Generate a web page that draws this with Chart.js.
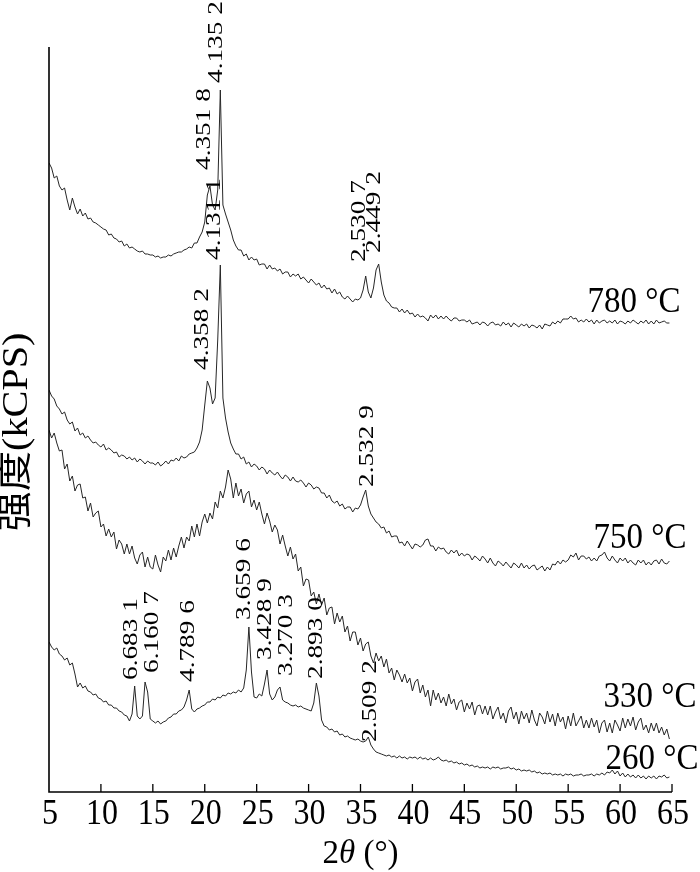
<!DOCTYPE html>
<html>
<head>
<meta charset="utf-8">
<script src="https://cdn.jsdelivr.net/npm/chart.js@4.4.1/dist/chart.umd.min.js"></script>
<style>
html,body{margin:0;padding:0;background:#fff;}
canvas{display:block;}
</style>
</head>
<body>
<canvas id="c" width="700" height="872"></canvas>
<script>
// ---------- DATA ----------
// 2θ grid: 5.00 to 64.75 step 0.25 (each row below = 2°)
const gridStart = 5, gridStep = 0.25, gridCount = 240;

// intensity (arbitrary kCPS units, stacked offsets included)
const i780 = [
637,632,622,624,614,610,612,600,
590,602,593,586,591,584,587,581,
582,578,577,575,573,571,570,565,
566,562,561,558,559,554,556,552,
553,551,549,548,549,546,546,545,
545,543,544,542,543,543,545,544,
546,547,548,548,550,551,553,552,
557,557,563,568,578,605,614,595,
590,610,710,595,586,578,570,560,
554,550,550,544,546,540,543,540,
541,535,536,536,531,535,531,532,
529,531,526,528,528,523,526,524,
526,521,523,520,517,521,518,515,
517,512,515,511,512,507,511,506,
508,503,501,504,501,498,501,500,
502,510,524,508,502,512,530,536,
518,505,499,497,493,492,492,488,
491,487,490,486,487,483,486,483,
484,482,479,485,482,485,481,484,
481,484,481,479,482,482,479,480,
480,478,480,476,477,478,475,478,
477,474,477,478,475,476,474,478,
475,477,473,477,475,473,476,474,
476,472,475,474,472,475,471,476,
475,474,478,476,479,477,481,481,
481,484,481,482,478,480,478,481,
478,480,476,480,477,479,480,477,
479,477,480,476,479,478,476,479,
477,480,478,476,479,477,480,476,
479,476,480,477,478,479,477,477
];
const i750 = [
410,404,401,394,391,386,388,380,
376,378,369,372,365,367,362,364,
360,357,358,355,353,356,350,352,
350,347,348,343,345,344,341,343,
340,342,338,341,339,336,339,337,
337,335,338,334,336,339,336,340,
339,342,339,344,342,343,346,347,
348,352,358,370,395,419,412,396,
402,460,535,402,382,368,357,351,
346,346,341,343,336,338,333,336,
334,330,333,331,326,330,327,325,
328,324,321,325,323,319,323,319,
318,320,317,313,317,315,311,313,
312,307,307,302,305,299,297,299,
294,296,291,293,293,288,292,291,
295,303,310,294,286,282,278,276,
272,273,267,269,263,264,264,257,
258,254,259,255,251,256,255,253,
255,260,261,254,254,249,253,251,
252,248,246,250,247,250,244,247,
244,246,245,240,244,242,239,244,
241,237,242,237,234,239,237,234,
238,235,232,237,235,232,237,232,
235,231,234,235,230,232,234,229,
233,230,236,235,239,236,240,238,
240,245,243,247,240,244,244,241,
243,239,242,239,244,245,248,242,
239,244,240,237,242,239,242,237,
240,237,235,240,237,240,235,238,
235,239,240,236,241,237,236,239
];
const i330 = [
370,362,367,357,349,350,331,336,
319,324,309,315,316,302,303,289,
297,283,287,289,273,276,264,271,
263,268,251,260,256,246,256,246,
254,242,236,245,248,233,243,233,
231,245,235,228,243,239,250,240,
252,243,254,263,252,263,259,274,
263,276,264,278,286,277,287,281,
298,292,309,302,313,330,321,302,
317,304,311,297,306,309,293,300,
290,298,286,276,287,279,268,275,
270,256,265,254,244,253,241,246,
229,233,214,221,220,204,208,196,
206,195,202,185,192,193,176,187,
178,184,168,174,159,168,168,155,
162,149,156,158,144,137,147,139,
144,133,141,127,132,120,130,125,
118,126,117,122,109,118,121,107,
115,103,110,94,110,100,107,97,
103,94,106,96,101,90,98,100,
88,97,91,98,85,94,95,86,
94,85,94,81,88,93,81,87,
77,89,93,81,88,76,89,81,
87,77,90,80,74,87,83,76,
89,78,86,74,87,78,83,71,
84,74,87,74,79,84,72,80,
72,82,73,80,67,77,80,68,
77,67,80,75,69,82,72,81,
74,83,70,78,82,70,75,67,
77,69,77,67,73,65,71,61
];
const i260 = [
158,153,150,152,146,144,140,142,
135,137,126,113,117,112,114,109,
108,105,106,102,101,98,99,95,
95,92,92,89,88,85,84,79,
86,114,84,81,84,118,108,81,
79,77,79,76,78,79,82,83,
86,86,89,90,93,100,110,91,
88,91,92,94,95,98,98,101,
100,103,102,105,104,107,106,108,
107,110,108,112,130,173,128,103,
102,106,104,116,130,106,100,103,
110,113,100,98,97,95,94,95,
93,94,92,91,90,89,97,117,
104,80,74,73,70,71,68,69,
65,66,63,64,62,61,60,61,
59,58,59,63,55,51,48,47,
46,45,44,45,43,44,42,44,
42,43,41,43,42,43,41,43,
41,42,40,42,40,41,43,40,
39,40,38,39,37,38,36,37,
35,36,34,35,33,34,32,33,
32,33,31,33,32,33,31,32,
32,33,31,32,30,31,29,30,
29,30,28,29,27,28,26,27,
26,27,25,26,25,26,24,26,
25,26,24,25,25,26,24,25,
25,26,24,26,25,27,25,28,
27,30,26,29,24,27,23,26,
23,25,22,25,22,24,21,24,
22,24,21,24,23,25,22,23
];

const seriesNames = ["780 °C", "750 °C", "330 °C", "260 °C"];
// temperature label anchors (2θ, intensity of text baseline)
const tempLabelX = [56.86, 57.44, 58.40, 58.59];
const tempLabelY = [488, 252, 93, 31];

// peak d-spacing labels (Å), anchor 2θ (text baseline) and intensity (text start)
const peakText = ["4.135 2","4.351 8","2.530 7","2.449 2",
                  "4.131 1","4.358 2","2.532 9",
                  "6.683 1","6.160 7","4.789 6","3.659 6","3.428 9","3.270 3","2.893 0","2.509 2"];
const peakX = [21.70,20.54,35.40,36.92, 21.50,20.35,36.24, 13.51,15.53,18.92,24.39,26.41,28.44,31.33,36.53];
const peakY = [717,630,538,547, 540,430,313, 120,127,118,180,140,124,121,58];

const xTicks = [5,10,15,20,25,30,35,40,45,50,55,60,65];

// ---------- BUILD ----------
const twoTheta = [];
for (let i = 0; i < gridCount; i++) twoTheta.push(gridStart + i * gridStep);
const toPts = arr => arr.map((v, i) => ({x: twoTheta[i], y: v}));

const LINE = '#262626';
const serif = '"Liberation Serif", "Times New Roman", serif';

function drawText(ctx, s, px, py, font, rot, sx, sy, align, base) {
  ctx.save();
  ctx.translate(px, py);
  if (rot) ctx.rotate(rot);
  ctx.scale(sx, sy);
  ctx.font = font;
  ctx.textAlign = align || 'left';
  ctx.textBaseline = base || 'alphabetic';
  ctx.fillText(s, 0, 0);
  ctx.restore();
}

const decor = {
  id: 'decor',
  afterDatasetsDraw(chart) {
    const {ctx, chartArea: a, scales: {x, y}} = chart;
    ctx.save();
    ctx.fillStyle = '#000';
    // axes
    ctx.strokeStyle = '#000';
    ctx.lineWidth = 1.6;
    ctx.beginPath();
    ctx.moveTo(a.left, a.top);
    ctx.lineTo(a.left, a.bottom);
    ctx.lineTo(a.right, a.bottom);
    ctx.stroke();
    ctx.lineWidth = 1.3;
    xTicks.forEach(t => {
      if (t === xTicks[0]) return;
      const px = x.getPixelForValue(t);
      ctx.beginPath();
      ctx.moveTo(px, a.bottom);
      ctx.lineTo(px, a.bottom - 8);
      ctx.stroke();
    });
    xTicks.forEach(t => drawText(ctx, String(t), x.getPixelForValue(t) + 1, a.bottom + 32,
      '32px ' + serif, 0, 1, 1.1, 'center'));

    // x title: 2θ (°)
    const cx = (a.left + a.right) / 2;
    const by = a.bottom + 71;
    const f1 = '33px ' + serif, f2 = 'italic 33px ' + serif;
    ctx.font = f1; const w1 = ctx.measureText('2').width;
    ctx.font = f2; const w2 = ctx.measureText('θ').width;
    ctx.font = f1; const w3 = ctx.measureText(' (°)').width;
    const sx0 = cx - (w1 + w2 + w3) / 2;
    drawText(ctx, '2', sx0, by, f1, 0, 1, 1.05);
    drawText(ctx, 'θ', sx0 + w1, by, f2, 0, 1, 1.05);
    drawText(ctx, ' (°)', sx0 + w1 + w2, by, f1, 0, 1, 1.05);

    // y title
    drawText(ctx, '强度(kCPS)', 18, 432, '35px ' + serif + ', "Noto Sans CJK SC"',
      -Math.PI / 2, 1.15, 1, 'center', 'middle');

    // temperature labels
    seriesNames.forEach((s, i) => {
      drawText(ctx, s, x.getPixelForValue(tempLabelX[i]), y.getPixelForValue(tempLabelY[i]),
        '33px ' + serif, 0, 1, 1.1);
    });

    // peak labels (vertical)
    peakText.forEach((s, i) => {
      drawText(ctx, s, x.getPixelForValue(peakX[i]), y.getPixelForValue(peakY[i]),
        '21px ' + serif, -Math.PI / 2, 1.3, 1);
    });
    ctx.restore();
  }
};

const mk = (label, arr) => ({
  label, data: toPts(arr), borderColor: LINE, borderWidth: 1,
  pointRadius: 0, tension: 0, fill: false
});

new Chart(document.getElementById('c'), {
  type: 'line',
  data: {
    datasets: [mk(seriesNames[0], i780), mk(seriesNames[1], i750), mk(seriesNames[2], i330), mk(seriesNames[3], i260)]
  },
  options: {
    responsive: false,
    devicePixelRatio: 1,
    animation: false,
    layout: {padding: {left: 49, right: 28, top: 47, bottom: 80}},
    plugins: {legend: {display: false}, tooltip: {enabled: false}},
    scales: {
      x: {type: 'linear', min: 5, max: 65, display: false},
      y: {type: 'linear', min: 8, max: 753, display: false}
    }
  },
  plugins: [decor]
});
</script>
</body>
</html>
